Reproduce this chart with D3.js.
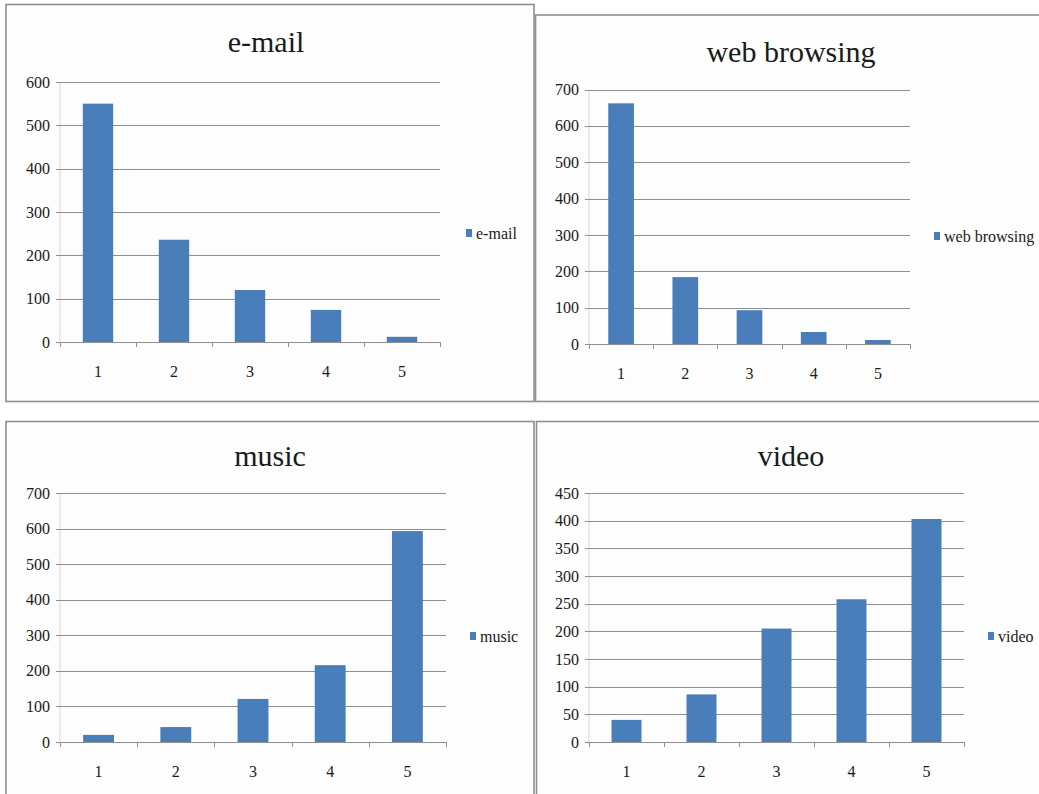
<!DOCTYPE html>
<html>
<head>
<meta charset="utf-8">
<script src="https://cdn.jsdelivr.net/npm/d3@7"></script>
<style>
  html, body { margin: 0; padding: 0; background: #ffffff; }
  svg { display: block; }
  text { font-family: "Liberation Serif", "DejaVu Serif", serif; fill: #1a1a1a; }
</style>
</head>
<body>
<svg id="chart" width="1039" height="794"></svg>
<script>
// ---- data ----
const categories = ["1", "2", "3", "4", "5"];
const emailValues = [550, 236, 120, 74, 12];
const webValues = [662, 184, 93, 33, 11];
const musicValues = [20, 42, 121, 216, 593];
const videoValues = [40, 86, 205, 258, 403];
const emailTicks = [0, 100, 200, 300, 400, 500, 600];
const webTicks = [0, 100, 200, 300, 400, 500, 600, 700];
const musicTicks = [0, 100, 200, 300, 400, 500, 600, 700];
const videoTicks = [0, 50, 100, 150, 200, 250, 300, 350, 400, 450];
const titles = ["e-mail", "web browsing", "music", "video"];

const BAR = "#4a7ebb";
const svg = d3.select("#chart");

function drawPanel(p) {
  const g = svg.append("g");
  // frame
  g.append("rect")
    .attr("x", p.frame[0]).attr("y", p.frame[1])
    .attr("width", p.frame[2]).attr("height", p.frame[3])
    .attr("fill", "#fdfdfd").attr("stroke", "#8f8f8f").attr("stroke-width", 1.6);

  const x = d3.scaleBand().domain(categories).range([p.x0, p.x1])
    .paddingInner(0.6).paddingOuter(0.3);
  const yMax = p.ticks[p.ticks.length - 1];
  const y = d3.scaleLinear().domain([0, yMax]).range([p.y0, p.yTop]);

  // light vertical axis line
  g.append("line")
    .attr("x1", p.x0).attr("x2", p.x0)
    .attr("y1", y(yMax)).attr("y2", y(0))
    .attr("stroke", "#d8d8d8").attr("stroke-width", 1);

  // gridlines
  g.append("g").selectAll("line").data(p.ticks).join("line")
    .attr("x1", p.x0 - 4).attr("x2", p.x1)
    .attr("y1", d => Math.round(y(d)) + 0.5).attr("y2", d => Math.round(y(d)) + 0.5)
    .attr("stroke", "#8f8f8f").attr("stroke-width", 1);

  // y labels
  const ya = d3.axisLeft(y).tickValues(p.ticks).tickSize(0).tickPadding(10);
  const yg = g.append("g").attr("transform", `translate(${p.x0},0)`).call(ya);
  yg.select(".domain").remove();
  yg.selectAll("text").style("font-size", "16px").style("font-family", '"Liberation Serif", serif').attr("fill", "#1a1a1a");

  // bars
  g.append("g").selectAll("rect").data(p.values).join("rect")
    .attr("x", (d, i) => x(categories[i]))
    .attr("width", x.bandwidth())
    .attr("y", d => y(d))
    .attr("height", d => y(0) - y(d))
    .attr("fill", BAR);

  // x baseline with boundary ticks
  const bounds = d3.range(categories.length + 1).map(i => p.x0 + i * x.step());
  g.append("g").selectAll("line").data(bounds).join("line")
    .attr("x1", d => Math.round(d) + 0.5).attr("x2", d => Math.round(d) + 0.5)
    .attr("y1", Math.round(y(0))).attr("y2", Math.round(y(0)) + 5)
    .attr("stroke", "#8f8f8f").attr("stroke-width", 1);

  const xa = d3.axisBottom(x).tickSize(0).tickPadding(24);
  const xg = g.append("g").attr("transform", `translate(0,${Math.round(y(0))})`).call(xa);
  xg.select(".domain").remove();
  xg.selectAll("text").style("font-size", "16px").style("font-family", '"Liberation Serif", serif').attr("fill", "#1a1a1a");

  // title
  g.append("text").attr("x", p.titleX).attr("y", p.titleY)
    .attr("text-anchor", "middle").style("font-size", "30px").text(p.title);

  // legend
  g.append("rect").attr("x", p.legX).attr("y", p.legY - 10).attr("width", 6).attr("height", 8).attr("fill", BAR);
  g.append("text").attr("x", p.legX + 10).attr("y", p.legY)
    .style("font-size", "16px").text(p.title);
}

const panels = [
  { title: titles[0], values: emailValues, ticks: emailTicks,
    frame: [6, 4.5, 528, 397], x0: 60, x1: 440, yTop: 82, y0: 342,
    titleX: 266, titleY: 52, legX: 466, legY: 239 },
  { title: titles[1], values: webValues, ticks: webTicks,
    frame: [535.5, 15, 520, 386.5], x0: 589, x1: 910, yTop: 89.5, y0: 344,
    titleX: 791, titleY: 62, legX: 934, legY: 242 },
  { title: titles[2], values: musicValues, ticks: musicTicks,
    frame: [6, 421.5, 528, 390], x0: 60, x1: 446, yTop: 493, y0: 742,
    titleX: 270, titleY: 466, legX: 470, legY: 642 },
  { title: titles[3], values: videoValues, ticks: videoTicks,
    frame: [536.5, 421.5, 520, 390], x0: 589, x1: 964, yTop: 493, y0: 742,
    titleX: 791, titleY: 466, legX: 988, legY: 642 }
];

panels.forEach(drawPanel);
</script>
</body>
</html>
